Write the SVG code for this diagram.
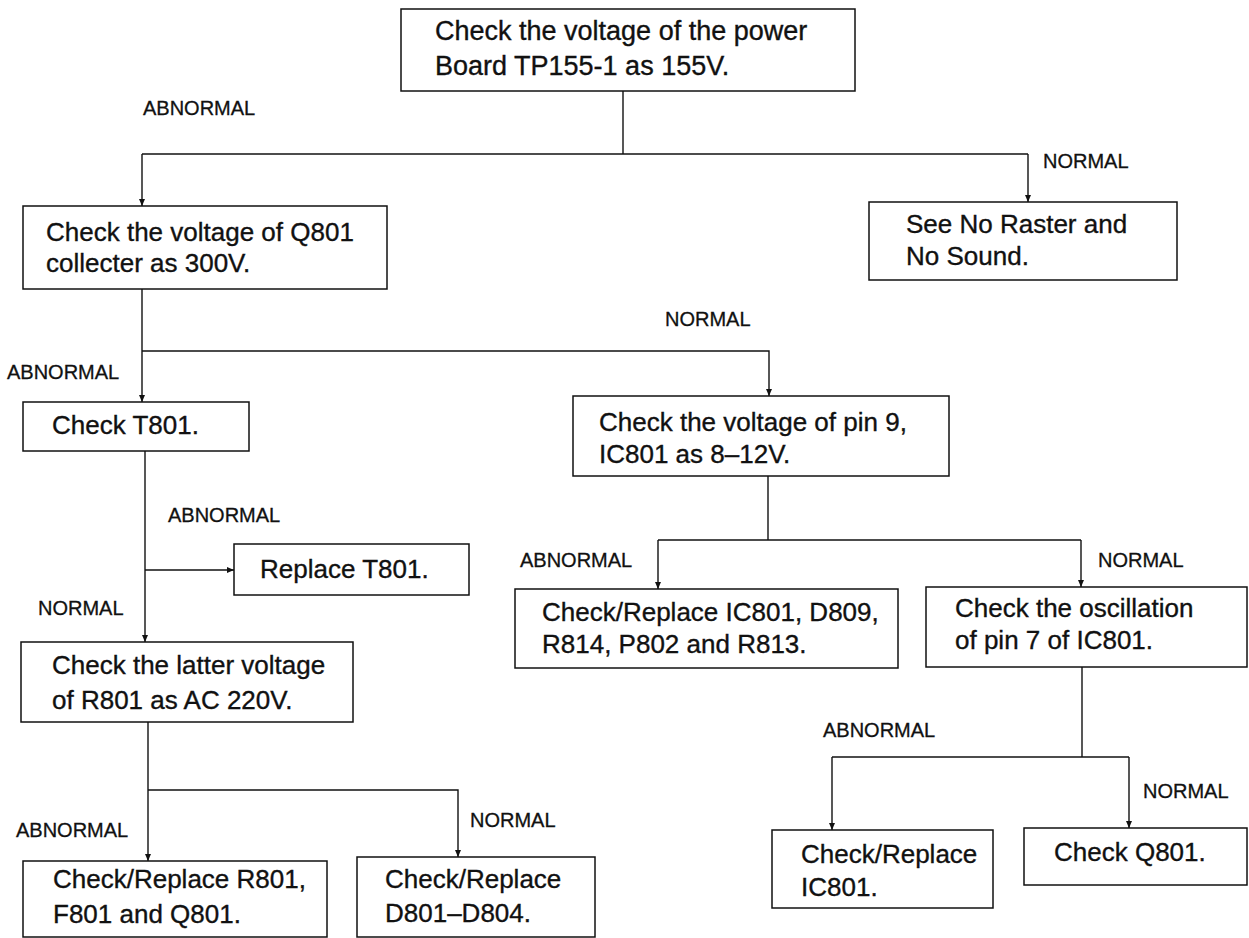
<svg xmlns="http://www.w3.org/2000/svg" width="1249" height="938" viewBox="0 0 1249 938">
<defs>
<marker id="arr" viewBox="0 0 7 6" refX="7" refY="3" markerWidth="7" markerHeight="6" markerUnits="userSpaceOnUse" orient="auto">
<path d="M0,0 L7,3 L0,6 Z" fill="#111"/>
</marker>
<style>
rect{fill:#fff;stroke:#111;stroke-width:1.5}
.t{font-family:"Liberation Sans",Arial,sans-serif;font-size:26px;fill:#111;stroke:#111;stroke-width:0.35}
.l{font-family:"Liberation Sans",Arial,sans-serif;font-size:20px;fill:#111;stroke:#111;stroke-width:0.3}
.c path{stroke:#111;stroke-width:1.4;fill:none}
</style>
</defs>
<rect x="0" y="0" width="1249" height="938" style="fill:#fff;stroke:none"/>
<g class="c" id="connectors">
<path d="M623,91 V154"/>
<path d="M142,154 H1028"/>
<path d="M142,154 V206" marker-end="url(#arr)"/>
<path d="M1028,154 V202" marker-end="url(#arr)"/>
<path d="M142,289 V402" marker-end="url(#arr)"/>
<path d="M142,351 H769 V396" marker-end="url(#arr)"/>
<path d="M145,451 V642" marker-end="url(#arr)"/>
<path d="M145,570 H234" marker-end="url(#arr)"/>
<path d="M768,476 V540"/>
<path d="M658,540 H1081"/>
<path d="M658,540 V589" marker-end="url(#arr)"/>
<path d="M1081,540 V587" marker-end="url(#arr)"/>
<path d="M148,722 V861" marker-end="url(#arr)"/>
<path d="M148,790 H458 V857" marker-end="url(#arr)"/>
<path d="M1082,667 V757"/>
<path d="M832,757 H1129"/>
<path d="M832,757 V830" marker-end="url(#arr)"/>
<path d="M1129,757 V828" marker-end="url(#arr)"/>
<text class="l" x="143" y="115">ABNORMAL</text>
<text class="l" x="1043" y="168">NORMAL</text>
<text class="l" x="665" y="326">NORMAL</text>
<text class="l" x="7" y="379">ABNORMAL</text>
<text class="l" x="168" y="522">ABNORMAL</text>
<text class="l" x="38" y="615">NORMAL</text>
<text class="l" x="520" y="567">ABNORMAL</text>
<text class="l" x="1098" y="567">NORMAL</text>
<text class="l" x="16" y="837">ABNORMAL</text>
<text class="l" x="470" y="827">NORMAL</text>
<text class="l" x="823" y="737">ABNORMAL</text>
<text class="l" x="1143" y="798">NORMAL</text>
</g>
<g id="n1"><rect x="401" y="9" width="454" height="82"/>
<text class="t" x="435" y="40" style="font-size:27px">Check the voltage of the power</text>
<text class="t" x="435" y="75" style="font-size:27px">Board TP155-1 as 155V.</text></g>
<g id="n2"><rect x="23" y="206" width="364" height="83"/>
<text class="t" x="46" y="241">Check the voltage of Q801</text>
<text class="t" x="46" y="272">collecter as 300V.</text></g>
<g id="n3"><rect x="869" y="202" width="308" height="78"/>
<text class="t" x="906" y="233">See No Raster and</text>
<text class="t" x="906" y="265">No Sound.</text></g>
<g id="n4"><rect x="573" y="396" width="376" height="80"/>
<text class="t" x="599" y="431">Check the voltage of pin 9,</text>
<text class="t" x="599" y="463">IC801 as 8–12V.</text></g>
<g id="n5"><rect x="23" y="402" width="226" height="49"/>
<text class="t" x="52" y="434">Check T801.</text></g>
<g id="n6"><rect x="234" y="544" width="235" height="51"/>
<text class="t" x="260" y="578">Replace T801.</text></g>
<g id="n7"><rect x="21" y="642" width="332" height="80"/>
<text class="t" x="52" y="674">Check the latter voltage</text>
<text class="t" x="52" y="709">of R801 as AC 220V.</text></g>
<g id="n8"><rect x="515" y="589" width="383" height="79"/>
<text class="t" x="542" y="621">Check/Replace IC801, D809,</text>
<text class="t" x="542" y="653">R814, P802 and R813.</text></g>
<g id="n9"><rect x="926" y="587" width="321" height="80"/>
<text class="t" x="955" y="617">Check the oscillation</text>
<text class="t" x="955" y="649">of pin 7 of IC801.</text></g>
<g id="n10"><rect x="772" y="830" width="221" height="78"/>
<text class="t" x="801" y="863">Check/Replace</text>
<text class="t" x="801" y="896">IC801.</text></g>
<g id="n11"><rect x="1024" y="828" width="223" height="57"/>
<text class="t" x="1054" y="861">Check Q801.</text></g>
<g id="n12"><rect x="23" y="861" width="304" height="76"/>
<text class="t" x="53" y="888">Check/Replace R801,</text>
<text class="t" x="53" y="923">F801 and Q801.</text></g>
<g id="n13"><rect x="357" y="857" width="238" height="80"/>
<text class="t" x="385" y="888">Check/Replace</text>
<text class="t" x="385" y="922">D801–D804.</text></g>
</svg>
